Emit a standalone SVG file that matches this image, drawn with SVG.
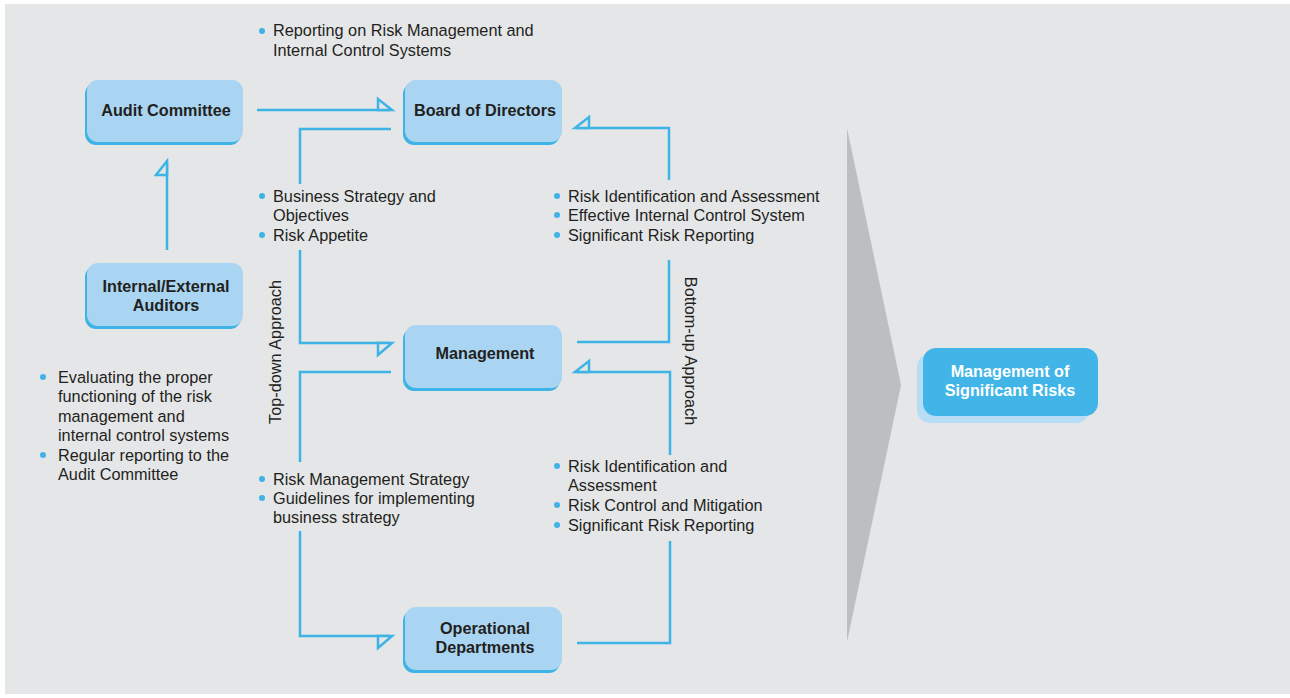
<svg xmlns="http://www.w3.org/2000/svg" width="1290" height="698" viewBox="0 0 1290 698">
<style>
.node{fill:#a9d5f2}
.sh{fill:#3eb3e6}
.lbl{font-family:"Liberation Sans",Arial,sans-serif;font-size:16.2px;font-weight:bold;fill:#231f20;text-anchor:middle}
.txt{font-family:"Liberation Sans",Arial,sans-serif;font-size:16.3px;fill:#231f20}
.dot{fill:#3eb3e6}
.ln{fill:none;stroke:#3eb3e6;stroke-width:2.5}
.ah{fill:#e5e6e8;stroke:#3eb3e6;stroke-width:2.5;stroke-linejoin:miter}
</style>
<rect x="5" y="4" width="1285" height="690" fill="#e5e6e8"/>
<polygon points="847,128 901,385 847,642" fill="#bdbec1"/>

<g id="connectors">
  <path class="ln" d="M257,110 H390"/>
  <path class="ah" d="M378,99 V110 H392 Z"/>
  <path class="ln" d="M167,250 V162"/>
  <path class="ah" d="M156,175 H167 V161 Z"/>
  <path class="ln" d="M391,129 H300 V184"/>
  <path class="ln" d="M300,250 V343 H390"/>
  <path class="ah" d="M378,355 V343 H392 Z"/>
  <path class="ln" d="M391,372 H300 V462"/>
  <path class="ln" d="M300,531 V636 H390"/>
  <path class="ah" d="M378,648 V636 H392 Z"/>
  <path class="ln" d="M577,643 H670 V541"/>
  <path class="ln" d="M670,455 V372 H577"/>
  <path class="ah" d="M589,361 V372 H575 Z"/>
  <path class="ln" d="M577,342 H669 V260"/>
  <path class="ln" d="M669,180 V128 H577"/>
  <path class="ah" d="M589,117 V128 H575 Z"/>
</g>

<g id="audit-committee">
  <rect class="sh" x="85" y="83" width="156" height="62" rx="11"/>
  <rect class="node" x="87" y="80" width="156" height="62" rx="11"/>
  <text class="lbl" x="166" y="116">Audit Committee</text>
</g>
<g id="board-of-directors">
  <rect class="sh" x="403" y="83" width="157" height="62" rx="11"/>
  <rect class="node" x="405" y="80" width="157" height="62" rx="11"/>
  <text class="lbl" x="485" y="116">Board of Directors</text>
</g>
<g id="internal-external-auditors">
  <rect class="sh" x="85" y="266" width="156" height="63" rx="11"/>
  <rect class="node" x="87" y="263" width="156" height="63" rx="11"/>
  <text class="lbl" x="166" y="292">Internal/External</text>
  <text class="lbl" x="166" y="311">Auditors</text>
</g>
<g id="management">
  <rect class="sh" x="403" y="328" width="157" height="63" rx="11"/>
  <rect class="node" x="405" y="325" width="157" height="63" rx="11"/>
  <text class="lbl" x="485" y="359">Management</text>
</g>
<g id="operational-departments">
  <rect class="sh" x="403" y="610" width="157" height="63" rx="11"/>
  <rect class="node" x="405" y="607" width="157" height="63" rx="11"/>
  <text class="lbl" x="485" y="634">Operational</text>
  <text class="lbl" x="485" y="653">Departments</text>
</g>
<g id="management-of-significant-risks">
  <rect x="917" y="354" width="172" height="69" rx="13" fill="#b6ddf5"/>
  <rect x="923" y="348" width="175" height="68" rx="13" fill="#41b5e7"/>
  <text class="lbl" x="1010" y="377" style="fill:#ffffff">Management of</text>
  <text class="lbl" x="1010" y="396" style="fill:#ffffff">Significant Risks</text>
</g>

<g id="labels">
  <circle class="dot" cx="262" cy="31" r="3"/>
  <text class="txt" x="273" y="36">Reporting on Risk Management and</text>
  <text class="txt" x="273" y="56">Internal Control Systems</text>

  <circle class="dot" cx="262" cy="196" r="3"/>
  <text class="txt" x="273" y="202">Business Strategy and</text>
  <text class="txt" x="273" y="221">Objectives</text>
  <circle class="dot" cx="262" cy="235" r="3"/>
  <text class="txt" x="273" y="241">Risk Appetite</text>

  <circle class="dot" cx="557" cy="196" r="3"/>
  <text class="txt" x="568" y="202">Risk Identification and Assessment</text>
  <circle class="dot" cx="557" cy="215" r="3"/>
  <text class="txt" x="568" y="221">Effective Internal Control System</text>
  <circle class="dot" cx="557" cy="235" r="3"/>
  <text class="txt" x="568" y="241">Significant Risk Reporting</text>

  <circle class="dot" cx="43" cy="377" r="3"/>
  <text class="txt" x="58" y="383">Evaluating the proper</text>
  <text class="txt" x="58" y="402">functioning of the risk</text>
  <text class="txt" x="58" y="422">management and</text>
  <text class="txt" x="58" y="441">internal control systems</text>
  <circle class="dot" cx="43" cy="455" r="3"/>
  <text class="txt" x="58" y="461">Regular reporting to the</text>
  <text class="txt" x="58" y="480">Audit Committee</text>

  <circle class="dot" cx="262" cy="479" r="3"/>
  <text class="txt" x="273" y="485">Risk Management Strategy</text>
  <circle class="dot" cx="262" cy="498" r="3"/>
  <text class="txt" x="273" y="504">Guidelines for implementing</text>
  <text class="txt" x="273" y="523">business strategy</text>

  <circle class="dot" cx="557" cy="466" r="3"/>
  <text class="txt" x="568" y="472">Risk Identification and</text>
  <text class="txt" x="568" y="491">Assessment</text>
  <circle class="dot" cx="557" cy="505" r="3"/>
  <text class="txt" x="568" y="511">Risk Control and Mitigation</text>
  <circle class="dot" cx="557" cy="525" r="3"/>
  <text class="txt" x="568" y="531">Significant Risk Reporting</text>

  <text class="txt" text-anchor="middle" transform="translate(281,352) rotate(-90)">Top-down Approach</text>
  <text class="txt" text-anchor="middle" transform="translate(685,351) rotate(90)">Bottom-up Approach</text>
</g>
</svg>
